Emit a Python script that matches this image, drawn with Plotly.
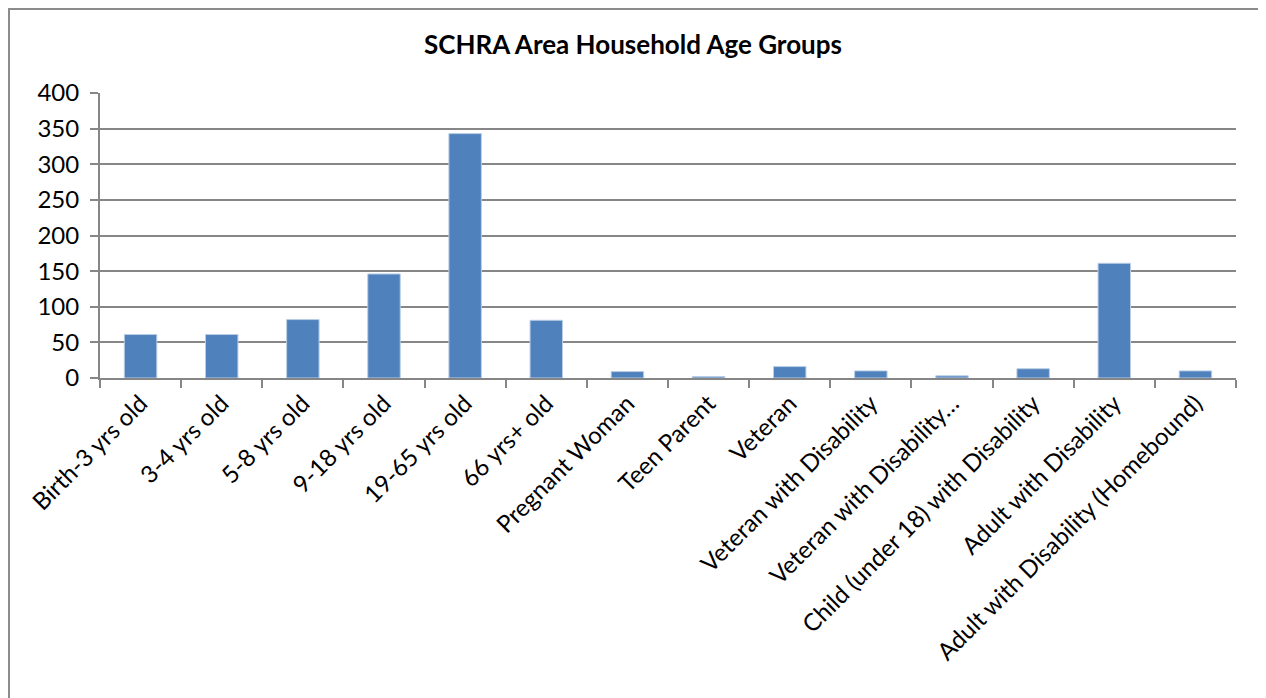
import plotly.graph_objects as go

categories = [
    "Birth-3 yrs old", "3-4 yrs old", "5-8 yrs old", "9-18 yrs old",
    "19-65 yrs old", "66 yrs+ old", "Pregnant Woman", "Teen Parent",
    "Veteran", "Veteran with Disability", "Veteran with Disability…",
    "Child (under 18) with Disability", "Adult with Disability",
    "Adult with Disability (Homebound)",
]
counts = [61, 61, 82, 146, 343, 81, 9, 2, 16, 10, 3, 13, 161, 10]
y_ticks = [0, 50, 100, 150, 200, 250, 300, 350, 400]

font = "Lato, Calibri, Carlito, sans-serif"
grid = "#868686"

fig = go.Figure(go.Bar(
    x=categories,
    y=counts,
    marker=dict(color="#4f81bd", line=dict(color="#b9cde5", width=1)),
))

# page body adds an 8px offset, so the figure is 8px smaller than the window
W, H = 1258, 690
fig.update_layout(
    width=W, height=H,
    margin=dict(l=92, r=30, t=85, b=320),
    paper_bgcolor="white", plot_bgcolor="white",
    bargap=0.6,
    showlegend=False,
    font=dict(family=font, size=24, color="black"),
    title=dict(
        text="<b>SCHRA Area Household Age Groups</b>",
        x=625 / W, xref="container", xanchor="center",
        y=1 - 37 / H, yanchor="middle",
        font=dict(family=font, size=26, color="black"),
    ),
    xaxis=dict(
        tickangle=-45,
        showline=True, linecolor=grid, linewidth=2,
        ticks="outside", tickson="boundaries", ticklen=8, tickcolor=grid, tickwidth=2,
        showgrid=False,
    ),
    yaxis=dict(
        range=[0, 400],
        tickvals=y_ticks,
        showline=True, linecolor=grid, linewidth=2,
        ticks="outside", ticklen=8, tickcolor=grid, tickwidth=2,
        showgrid=True, gridcolor=grid, gridwidth=2,
        zeroline=False,
        ticklabelstandoff=6,
    ),
    # outer chart border (its bottom edge runs off the page, as in the original)
    shapes=[dict(
        type="rect", xref="paper", yref="paper",
        x0=(1 - 92) / 1136, x1=(1257 - 92) / 1136,
        y0=(370 - 705) / 285, y1=(370 - 1) / 285,
        line=dict(color="#8c8c8c", width=2),
        fillcolor="rgba(0,0,0,0)", layer="below",
    )],
)

fig.write_html("out.html")
